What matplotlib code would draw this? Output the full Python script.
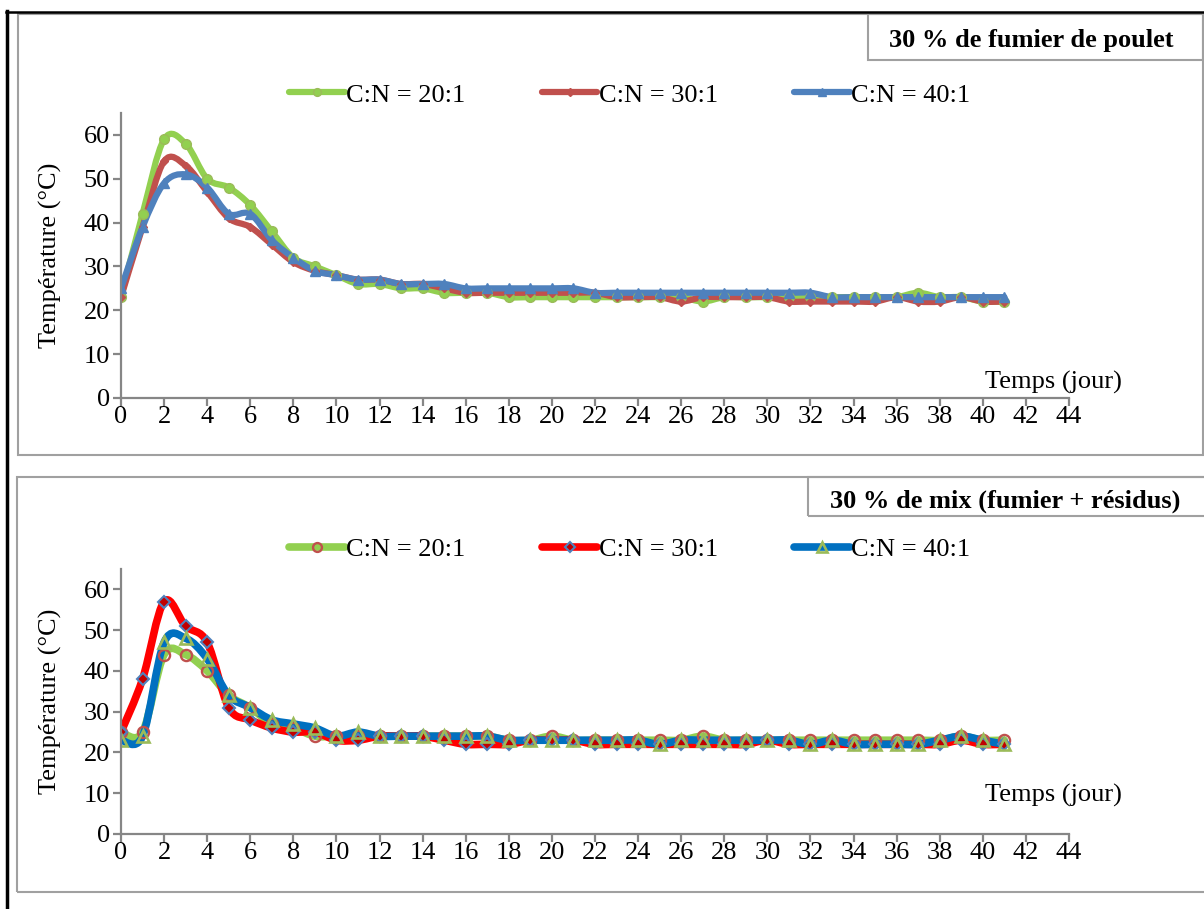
import numpy as np
import matplotlib
matplotlib.use("Agg")
import matplotlib.pyplot as plt
from matplotlib.path import Path
from matplotlib.patches import PathPatch, Rectangle
from matplotlib.lines import Line2D

plt.rcParams['font.family'] = ['Liberation Serif', 'DejaVu Serif']

days = list(range(42))
labels = ['C:N = 20:1', 'C:N = 30:1', 'C:N = 40:1']

# 30 % de fumier de poulet
top_20 = [23, 42, 59, 58, 50, 48, 44, 38, 32, 30, 28, 26, 26, 25, 25, 24, 24, 24, 23, 23, 23,
          23, 23, 23, 23, 23, 23, 22, 23, 23, 23, 23, 23, 23, 23, 23, 23, 24, 23, 23, 22, 22]
top_30 = [23, 39, 54, 53, 47, 41, 39, 35, 31, 29, 28, 27, 27, 26, 26, 25, 24, 24, 24, 24, 24,
          24, 24, 23, 23, 23, 22, 23, 23, 23, 23, 22, 22, 22, 22, 22, 23, 22, 22, 23, 22, 22]
top_40 = [25, 39, 49, 51, 48, 42, 42, 36, 32, 29, 28, 27, 27, 26, 26, 26, 25, 25, 25, 25, 25,
          25, 24, 24, 24, 24, 24, 24, 24, 24, 24, 24, 24, 23, 23, 23, 23, 23, 23, 23, 23, 23]

# 30 % de mix (fumier + residus)
bot_20 = [25, 25, 44, 44, 40, 34, 31, 27, 26, 24, 24, 24, 24, 24, 24, 24, 24, 24, 23, 23, 24,
          23, 23, 23, 23, 23, 23, 24, 23, 23, 23, 23, 23, 23, 23, 23, 23, 23, 23, 24, 23, 23]
bot_30 = [25, 38, 57, 51, 47, 31, 28, 26, 25, 25, 23, 23, 24, 24, 24, 23, 22, 22, 22, 23, 23,
          23, 22, 22, 22, 22, 22, 22, 22, 22, 23, 22, 22, 22, 22, 22, 22, 22, 22, 23, 22, 22]
bot_40 = [23, 24, 47, 48, 43, 34, 31, 28, 27, 26, 24, 25, 24, 24, 24, 24, 24, 24, 23, 23, 23,
          23, 23, 23, 23, 22, 23, 23, 23, 23, 23, 23, 22, 23, 22, 22, 22, 22, 23, 24, 23, 22]

FS = 19


def smooth_path(x, y):
    # Excel-style smoothed line: cubic Bezier through each point
    p = np.column_stack([x, y]).astype(float)
    n = len(p)
    verts = [p[0]]
    codes = [Path.MOVETO]
    for i in range(n - 1):
        p0 = p[i - 1] if i > 0 else p[i]
        p3 = p[i + 2] if i + 2 < n else p[i + 1]
        c1 = p[i] + (p[i + 1] - p0) / 6
        c2 = p[i + 1] - (p3 - p[i]) / 6
        verts += [c1, c2, p[i + 1]]
        codes += [Path.CURVE4] * 3
    return Path(verts, codes)


fig = plt.figure(figsize=(12.04, 9.09), dpi=100)
W, H = 1204, 909


def fx(px):
    return px / W


def fy(py):
    return 1 - py / H


# frames
fig.patches.append(Rectangle((fx(18), fy(455)), fx(1203 - 18), (455 - 14) / H,
                             transform=fig.transFigure, fill=False, ec='#a0a0a0', lw=1.5))
fig.patches.append(Rectangle((fx(17), fy(892)), fx(1210 - 17), (892 - 477) / H,
                             transform=fig.transFigure, fill=False, ec='#a0a0a0', lw=1.5))
fig.patches.append(Rectangle((fx(868), fy(60)), fx(1203 - 868), (60 - 14) / H,
                             transform=fig.transFigure, fill=False, ec='#a0a0a0', lw=1.5))
fig.patches.append(Rectangle((fx(808), fy(516)), fx(1210 - 808), (516 - 477) / H,
                             transform=fig.transFigure, fill=False, ec='#a0a0a0', lw=1.5))
fig.lines.append(Line2D([fx(7), fx(7)], [0, fy(11)], transform=fig.transFigure, color='black', lw=2.5))
fig.lines.append(Line2D([fx(6), 1], [fy(12), fy(12)], transform=fig.transFigure, color='black', lw=1.8))

fig.text(fx(1031), fy(40), '30 % de fumier de poulet', ha='center', va='center',
         fontsize=FS, fontweight='bold')
fig.text(fx(1005), fy(501), '30 % de mix (fumier + résidus)', ha='center', va='center',
         fontsize=FS, fontweight='bold')

ax_top = fig.add_axes([fx(121), fy(398), fx(1069 - 121), (398 - 113) / H])
ax_bot = fig.add_axes([fx(121), fy(834), fx(1069 - 121), (834 - 569) / H])

top_styles = [
    dict(color='#92d050', marker='o', ms=7, mfc='#92d050', mec='#9bbb59', mew=1),
    dict(color='#c0504d', marker='D', ms=4.5, mfc='#c0504d', mec='#c0504d', mew=1),
    dict(color='#4f81bd', marker='^', ms=7.5, mfc='#4f81bd', mec='#4f81bd', mew=1),
]
bot_styles = [
    dict(color='#92d050', marker='o', ms=8, mfc='none', mec='#c0504d', mew=1.7),
    dict(color='#ff0000', marker='D', ms=6, mfc='#c00000', mec='#4f81bd', mew=1.5),
    dict(color='#0070c0', marker='^', ms=8.5, mfc='none', mec='#9bbb59', mew=1.9),
]

panels = [
    (ax_top, [top_20, top_30, top_40], top_styles, 4.5, 0.8955, 0.056),
    (ax_bot, [bot_20, bot_30, bot_40], bot_styles, 5.5, 0.396, 0.147),
]

for ax, series, styles, lw, leg_y, xl_y in panels:
    handles = []
    for vals, st, lab in zip(series, styles, labels):
        ax.add_patch(PathPatch(smooth_path(days, vals), fill=False, ec=st['color'], lw=lw,
                               capstyle='round', joinstyle='round'))
        ax.plot(days, vals, ls='none', marker=st['marker'], ms=st['ms'], mfc=st['mfc'],
                mec=st['mec'], mew=st['mew'])
        handles.append(Line2D([], [], color=st['color'], lw=lw, marker=st['marker'],
                              ms=st['ms'] * 0.8, mfc=st['mfc'], mec=st['mec'], mew=st['mew'],
                              solid_capstyle='round', label=lab))
    ax.set_xlim(0, 44)
    ax.set_ylim(0, 65)
    ax.set_xticks(range(0, 45, 2))
    ax.set_yticks(range(0, 61, 10))
    for s in ['top', 'right']:
        ax.spines[s].set_visible(False)
    for s in ['left', 'bottom']:
        ax.spines[s].set_color('#868686')
        ax.spines[s].set_linewidth(1.6)
    ax.tick_params(direction='out', length=6, width=1.6, color='#868686',
                   labelsize=FS, pad=2)
    ax.tick_params(axis='x', pad=0)
    ax.set_ylabel('Température (°C)', fontsize=FS)
    ax.yaxis.set_label_coords(-0.062, 0.5)
    ax.text(0.911, xl_y, 'Temps (jour)', transform=ax.transAxes, ha='left', va='center',
            fontsize=FS)
    fig.legend(handles=handles, loc='center', bbox_to_anchor=(0.523, leg_y), ncol=3,
               frameon=False, fontsize=FS, handlelength=2.1, handletextpad=0.05,
               columnspacing=2.9, numpoints=1)

fig.savefig('out.png', dpi=100)
